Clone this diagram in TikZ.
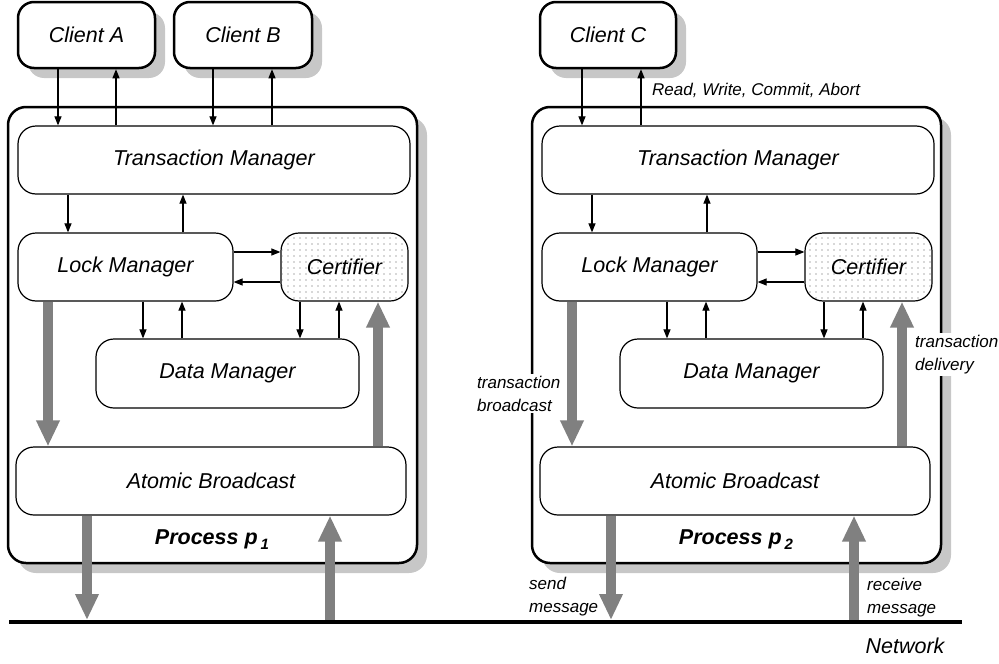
\documentclass[tikz,border=0pt]{standalone}
\usepackage{fontspec}
\setmainfont{Liberation Sans}
\usetikzlibrary{arrows.meta,patterns.meta,shadows}

\definecolor{shadowgray}{gray}{0.78}
\definecolor{thickgray}{gray}{0.5}
\newcommand\diagbig{\fontsize{21.5}{26}\selectfont\itshape}
\newcommand\diagbold{\fontsize{21.5}{26}\selectfont\bfseries\itshape}
\newcommand\diaglbl{\fontsize{17}{23}\selectfont\itshape}

\tikzset{
  box/.style={draw, line width=1.2pt, rounded corners=18pt, fill=white, font=\diagbig, inner sep=0pt},
  certbox/.style={box, postaction={pattern={Dots[distance=6pt,radius=0.6pt]}, pattern color=black!65}},
  myshadow/.style={drop shadow={shadow xshift=10pt, shadow yshift=-10pt, fill=shadowgray, draw=none, opacity=1}},
  client/.style={box, line width=2.5pt, rounded corners=16pt, myshadow},
  outerbox/.style={draw, line width=2.5pt, rounded corners=18pt, fill=white, myshadow},
  thinarrow/.style={line width=1.1pt, -{Triangle[width=7pt,length=9pt]}},
  bigarrow/.style={line width=10pt, draw=thickgray, -{Triangle[width=22pt,length=26pt]}},
  lbl/.style={font=\diaglbl, align=left, fill=white, inner sep=2pt},
}

\newcommand\procpart[1]{%
  \node[outerbox, minimum width=409pt, minimum height=456pt] (pr) at (212.5,335) {};
  \node[box, minimum width=392pt, minimum height=68pt] (tm) at (214,160) {Transaction Manager};
  \node[box, minimum width=215pt, minimum height=68pt] (lm) at (125.5,267) {Lock Manager};
  \node[certbox, minimum width=127pt, minimum height=68pt] (ce) at (344.5,267) {Certifier};
  \node[box, minimum width=263pt, minimum height=69pt] (dm) at (227.5,373.5) {Data Manager};
  \node[box, minimum width=390pt, minimum height=68pt] (ab) at (211,481) {Atomic Broadcast};
  \node[font=\diagbold] (pl) at (212,540) {Process p\kern3pt\raisebox{-5pt}{\fontsize{15}{15}\selectfont #1}};
  \draw[thinarrow] (68,0 |- tm.south) -- (68,0 |- lm.north);
  \draw[thinarrow] (183,0 |- lm.north) -- (183,0 |- tm.south);
  \draw[thinarrow] (143,0 |- lm.south) -- (143,0 |- dm.north);
  \draw[thinarrow] (182,0 |- dm.north) -- (182,0 |- lm.south);
  \draw[thinarrow] (300,0 |- ce.south) -- (300,0 |- dm.north);
  \draw[thinarrow] (339,0 |- dm.north) -- (339,0 |- ce.south);
  \draw[thinarrow] (lm.east |- 0,252) -- (ce.west |- 0,252);
  \draw[thinarrow] (ce.west |- 0,282) -- (lm.east |- 0,282);
  \draw[bigarrow] (48,0 |- lm.south) -- (48,0 |- ab.north);
  \draw[bigarrow] (378,0 |- ab.north) -- (378,0 |- ce.south);
  \draw[bigarrow] (87,0 |- ab.south) -- (87,620);
  \draw[bigarrow] (330,620) -- (330,0 |- ab.south);
}

\begin{document}
\begin{tikzpicture}[x=1pt,y=-1pt]
\useasboundingbox (0,0) rectangle (999,664);

% clients
\node[client, minimum width=137pt, minimum height=66pt] (ca) at (86.5,35) {Client A};
\node[client, minimum width=138pt, minimum height=66pt] (cb) at (243,35) {Client B};
\node[client, minimum width=136pt, minimum height=66pt] (cc) at (608,35) {Client C};

\begin{scope}[name prefix=a-]
  \procpart{1}
\end{scope}
\begin{scope}[xshift=524pt, name prefix=b-]
  \procpart{2}
\end{scope}

% client connectors
\draw[thinarrow] (58,0 |- ca.south) -- (58,0 |- a-tm.north);
\draw[thinarrow] (116,0 |- a-tm.north) -- (116,0 |- ca.south);
\draw[thinarrow] (213,0 |- cb.south) -- (213,0 |- a-tm.north);
\draw[thinarrow] (272,0 |- a-tm.north) -- (272,0 |- cb.south);
\draw[thinarrow] (582,0 |- cc.south) -- (582,0 |- b-tm.north);
\draw[thinarrow] (641,0 |- b-tm.north) -- (641,0 |- cc.south);

% network
\draw[line width=4.5pt] (9,622) coordinate (netL) -- (962,622) coordinate (netR);
\node[font=\diagbig] (nw) at (905,646) {Network};

% labels
\node[lbl, anchor=west] (rwca) at (650,90) {Read, Write, Commit, Abort};
\node[lbl, anchor=west] (tb) at (475,393.5) {transaction\\broadcast};
\node[lbl, anchor=west] (td) at (913,354.5) {transaction\\delivery};
\node[lbl, anchor=west, fill=none] (sm) at (527,596.5) {send\\message};
\node[lbl, anchor=west, fill=none] (rm) at (865,597.5) {receive\\message};
\end{tikzpicture}
\end{document}
